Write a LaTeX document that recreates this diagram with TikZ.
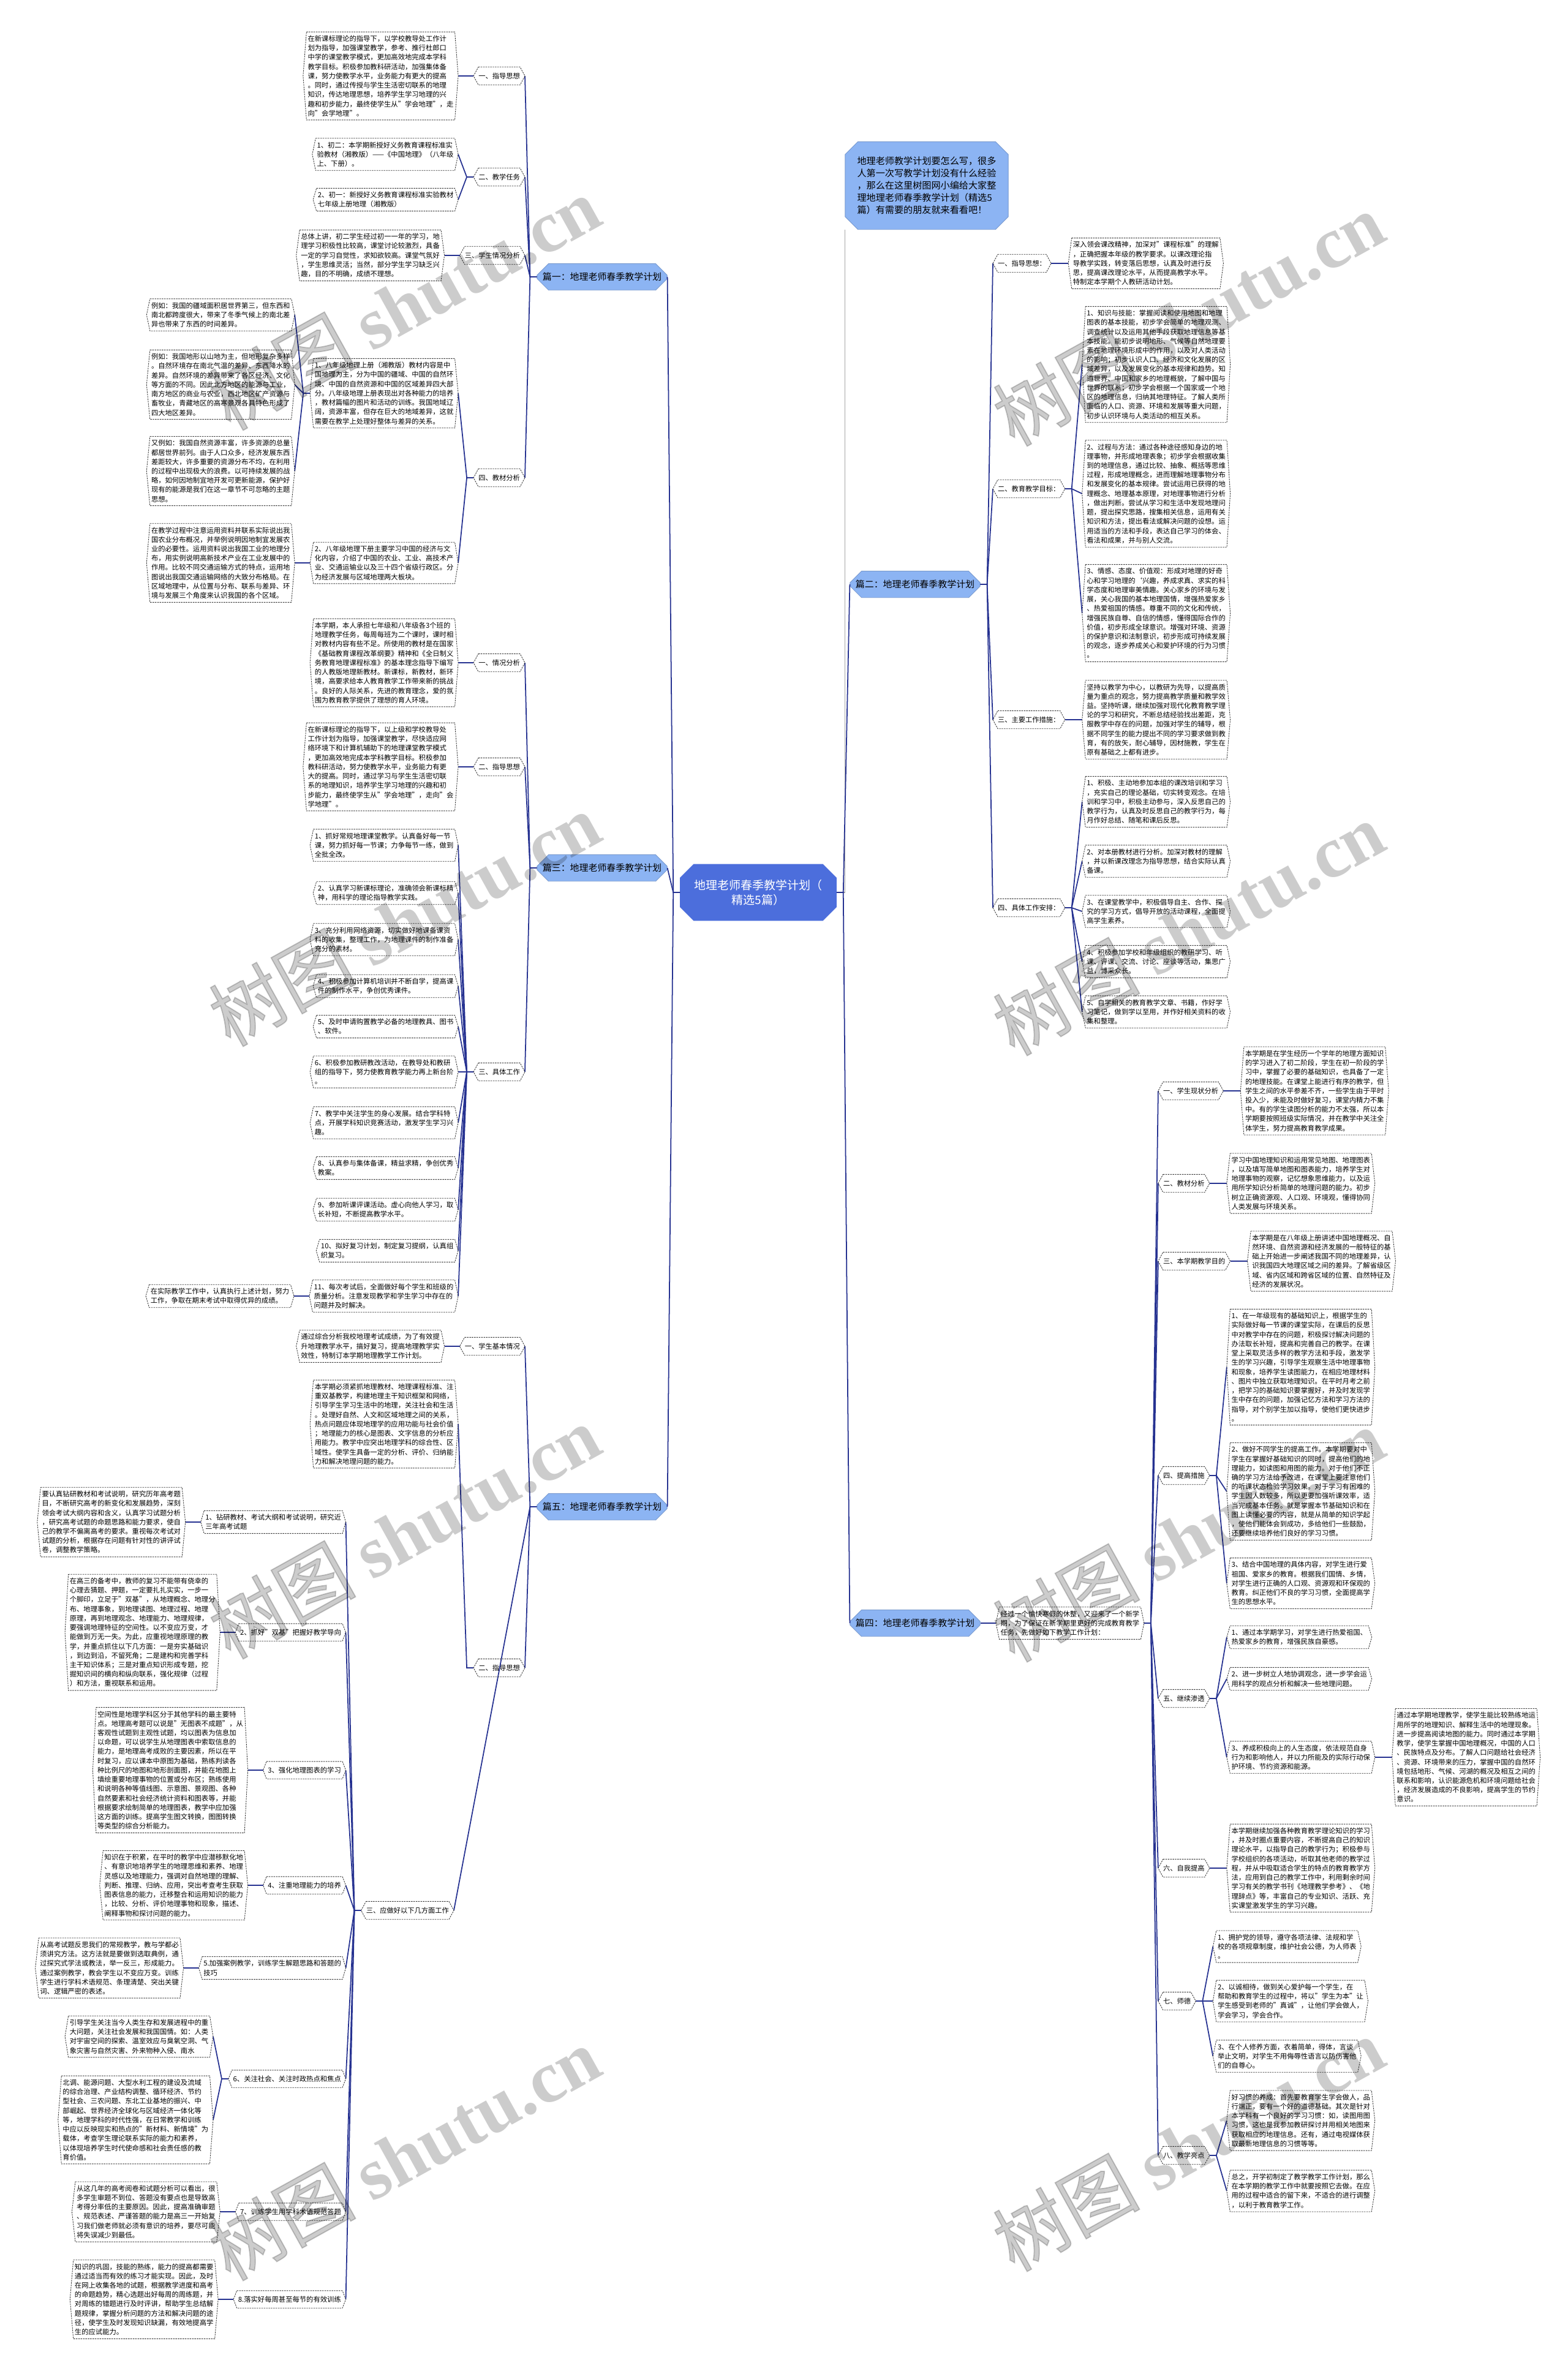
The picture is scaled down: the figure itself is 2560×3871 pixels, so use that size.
\documentclass[tikz,border=0pt]{standalone}
\usepackage{fontspec}
\setmainfont{Noto Sans CJK SC}
\newfontfamily\wmserif{Liberation Serif}
\newfontfamily\wmcjk[FakeBold=1.5]{Noto Sans CJK SC}
\usetikzlibrary{calc,shapes.misc}
\definecolor{conncol}{RGB}{38,50,145}
\definecolor{pianfill}{RGB}{140,180,243}
\definecolor{rootfill}{RGB}{76,110,220}
\definecolor{hexcol}{RGB}{60,60,60}
\newcommand\hexify[2]{\foreach \n in {#2}{\draw[hexline] ([xshift=#1]\n.north west) -- ([xshift=-#1]\n.north east) -- (\n.east) -- ([xshift=-#1]\n.south east) -- ([xshift=#1]\n.south west) -- (\n.west) -- cycle;}}
\begin{document}
\begin{tikzpicture}[x=0.01cm,y=-0.01cm,
  leaf/.style={font=\fontsize{3.22pt}{4.33pt}\selectfont, align=left, inner xsep=0.07cm, inner ysep=0.05cm, minimum height=0.27cm},
  lab/.style={font=\fontsize{3.2pt}{4.3pt}\selectfont, inner xsep=0.075cm, inner ysep=0.02cm, minimum height=0.28cm},
  pian/.style={chamfered rectangle, chamfered rectangle xsep=0.06cm, fill=pianfill, draw=pianfill!85!black, line width=0.25pt, font=\fontsize{4.25pt}{5pt}\selectfont, minimum width=2.08cm, minimum height=0.33cm, inner xsep=0.03cm, inner ysep=0.02cm},
  conn/.style={draw=conncol, line width=0.5pt},
  hexline/.style={draw=hexcol, line width=0.25pt, dash pattern=on 0.7pt off 0.4pt},
  wm/.style={text=black, text opacity=0.2, font=\fontsize{34pt}{34pt}\selectfont, rotate=29, inner sep=0pt}
]
\fill[white] (0,0) rectangle (2560,3871);
\useasboundingbox (0,0) rectangle (2560,3871);

% ---------- root and description ----------
\node[chamfered rectangle, chamfered rectangle xsep=0.09cm, fill=rootfill, draw=rootfill, text=white, align=center, font=\fontsize{5.4pt}{6.9pt}\selectfont, minimum width=2.54cm, minimum height=0.64cm] (root) at (1238,1457) {地理老师春季教学计划（\\精选5篇）};
\node[chamfered rectangle, chamfered rectangle xsep=0.08cm, fill=pianfill, draw=pianfill!85!black, line width=0.25pt, align=left, font=\fontsize{4.3pt}{5.7pt}\selectfont, minimum width=2.5cm, minimum height=1.14cm] (desc) at (1513,303) {地理老师教学计划要怎么写，很多\\人第一次写教学计划没有什么经验\\，那么在这里树图网小编给大家整\\理地理老师春季教学计划（精选5\\篇）有需要的朋友就来看看吧！};

% ---------- level 1 ----------
\node[pian] (P1) at (983,452) {篇一：地理老师春季教学计划};
\node[pian] (P3) at (983,1417) {篇三：地理老师春季教学计划};
\node[pian] (P5) at (983,2460) {篇五：地理老师春季教学计划};
\node[pian] (P2) at (1494,954) {篇二：地理老师春季教学计划};
\node[pian] (P4) at (1494,2650) {篇四：地理老师春季教学计划};

% ---------- 篇一 ----------
\node[lab, anchor=east] (p1a) at (857,124) {一、指导思想};
\node[lab, anchor=east] (p1b) at (857,289) {二、教学任务};
\node[lab, anchor=east] (p1c) at (857,417) {三、学生情况分析};
\node[lab, anchor=east] (p1d) at (857,780) {四、教材分析};
\node[leaf, anchor=east] (A1) at ($(p1a.west)+(-25,0)$) {在新课标理论的指导下，以学校教导处工作计\\划为指导，加强课堂教学，参考、推行杜郎口\\中学的课堂教学模式，更加高效地完成本学科\\教学目标。积极参加教科研活动，加强集体备\\课，努力使教学水平，业务能力有更大的提高\\。同时，通过传授与学生生活密切联系的地理\\知识，传达地理思想，培养学生学习地理的兴\\趣和初步能力，最终使学生从"学会地理"，走\\向"会学地理"。};
\node[leaf, anchor=east] (A2a) at ($(p1b.west)+(-25,252-289)$) {1、初二：本学期新授好义务教育课程标准实\\验教材（湘教版）——《中国地理》（八年级\\上、下册）。};
\node[leaf, anchor=east] (A2b) at ($(p1b.west)+(-25,326-289)$) {2、初一：新授好义务教育课程标准实验教材\\七年级上册地理（湘教版）};
\node[leaf, anchor=east] (A3) at ($(p1c.west)+(-25,0)$) {总体上讲，初二学生经过初一一年的学习，地\\理学习积极性比较高，课堂讨论较激烈，具备\\一定的学习自觉性，求知欲较高。课堂气氛好\\，学生思维灵活；当然，部分学生学习缺乏兴\\趣，目的不明确，成绩不理想。};
\node[leaf, anchor=east] (A4a) at ($(p1d.west)+(-25,642-780)$) {1、八年级地理上册（湘教版）教材内容是中\\国地理为主，分为中国的疆域、中国的自然环\\境、中国的自然资源和中国的区域差异四大部\\分。八年级地理上册表现出对各种能力的培养\\，教材篇幅的图片和活动的训练。我国地域辽\\阔，资源丰富，但存在巨大的地域差异，这就\\需要在教学上处理好整体与差异的关系。};
\node[leaf, anchor=east] (A4b) at ($(p1d.west)+(-25,919-780)$) {2、八年级地理下册主要学习中国的经济与文\\化内容，介绍了中国的农业、工业、高技术产\\业、交通运输业以及三十四个省级行政区。分\\为经济发展与区域地理两大板块。};
\node[leaf, anchor=east] (L1) at ($(A4a.west)+(-25,514-642)$) {例如：我国的疆域面积居世界第三，但东西和\\南北都跨度很大，带来了冬季气候上的南北差\\异也带来了东西的时间差异。};
\node[leaf, anchor=east] (L2) at ($(A4a.west)+(-25,628-642)$) {例如：我国地形以山地为主，但地形复杂多样\\。自然环境存在南北气温的差异、东西降水的\\差异。自然环境的差异带来了各区经济、文化\\等方面的不同。因此北方地区的能源与工业，\\南方地区的商业与农业，西北地区矿产资源与\\畜牧业，青藏地区的高寒景观各具特色形成了\\四大地区差异。};
\node[leaf, anchor=east] (L3) at ($(A4a.west)+(-25,769-642)$) {又例如：我国自然资源丰富，许多资源的总量\\都居世界前列。由于人口众多，经济发展东西\\差距较大，许多重要的资源分布不均，在利用\\的过程中出现极大的浪费。以可持续发展的战\\略，如何因地制宜地开发可更新能源，保护好\\现有的能源是我们在这一章节不可忽略的主题\\思想。};
\node[leaf, anchor=east] (L4) at ($(A4b.west)+(-25,0)$) {在教学过程中注意运用资料并联系实际说出我\\国农业分布概况，并举例说明因地制宜发展农\\业的必要性。运用资料说出我国工业的地理分\\布，用实例说明高新技术产业在工业发展中的\\作用。比较不同交通运输方式的特点，运用地\\图说出我国交通运输网络的大致分布格局。在\\区域地理中，从位置与分布、联系与差异、环\\境与发展三个角度来认识我国的各个区域。};

% ---------- 篇三 ----------
\node[lab, anchor=east] (p3a) at (857,1082) {一、情况分析};
\node[lab, anchor=east] (p3b) at (857,1252) {二、指导思想};
\node[lab, anchor=east] (p3c) at (857,1750) {三、具体工作};
\node[leaf, anchor=east] (B1) at ($(p3a.west)+(-25,0)$) {本学期，本人承担七年级和八年级各3个班的\\地理教学任务，每周每班为二个课时，课时相\\对教材内容有些不足。所使用的教材是在国家\\《基础教育课程改革纲要》精神和《全日制义\\务教育地理课程标准》的基本理念指导下编写\\的人教版地理新教材。新课标，新教材，新环\\境，高要求给本人教育教学工作带来新的挑战\\。良好的人际关系，先进的教育理念，爱的氛\\围为教育教学提供了理想的育人环境。};
\node[leaf, anchor=east] (B2) at ($(p3b.west)+(-25,0)$) {在新课标理论的指导下，以上级和学校教导处\\工作计划为指导，加强课堂教学，尽快适应网\\络环境下和计算机辅助下的地理课堂教学模式\\，更加高效地完成本学科教学目标。积极参加\\教科研活动，努力使教学水平，业务能力有更\\大的提高。同时，通过学习与学生生活密切联\\系的地理知识，培养学生学习地理的兴趣和初\\步能力，最终使学生从"学会地理"，走向"会\\学地理"。};
\node[leaf, anchor=east] (B31) at ($(p3c.west)+(-25,1380-1750)$) {1、抓好常规地理课堂教学。认真备好每一节\\课，努力抓好每一节课；力争每节一练，做到\\全批全改。};
\node[leaf, anchor=east] (B32) at ($(p3c.west)+(-25,1458-1750)$) {2、认真学习新课标理论，准确领会新课标精\\神，用科学的理论指导教学实践。};
\node[leaf, anchor=east] (B33) at ($(p3c.west)+(-25,1534-1750)$) {3、充分利用网络资源，切实做好地课备课资\\料的收集，整理工作，为地理课件的制作准备\\充分的素材。};
\node[leaf, anchor=east] (B34) at ($(p3c.west)+(-25,1610-1750)$) {4、积极参加计算机培训并不断自学，提高课\\件的制作水平，争创优秀课件。};
\node[leaf, anchor=east] (B35) at ($(p3c.west)+(-25,1676-1750)$) {5、及时申请购置教学必备的地理教具、图书\\、软件。};
\node[leaf, anchor=east] (B36) at ($(p3c.west)+(-25,0)$) {6、积极参加教研教改活动，在教导处和教研\\组的指导下，努力使教育教学能力再上新台阶\\。};
\node[leaf, anchor=east] (B37) at ($(p3c.west)+(-25,1833-1750)$) {7、教学中关注学生的身心发展。结合学科特\\点，开展学科知识竞赛活动，激发学生学习兴\\趣。};
\node[leaf, anchor=east] (B38) at ($(p3c.west)+(-25,1907-1750)$) {8、认真参与集体备课，精益求精，争创优秀\\教案。};
\node[leaf, anchor=east] (B39) at ($(p3c.west)+(-25,1975-1750)$) {9、参加听课评课活动。虚心向他人学习，取\\长补短，不断提高教学水平。};
\node[leaf, anchor=east] (B310) at ($(p3c.west)+(-25,2042-1750)$) {10、拟好复习计划，制定复习提纲，认真组\\织复习。};
\node[leaf, anchor=east] (B311) at ($(p3c.west)+(-25,2116-1750)$) {11、每次考试后，全面做好每个学生和班级的\\质量分析。注意发现教学和学生学习中存在的\\问题并及时解决。};
\node[leaf, anchor=east] (B3L) at ($(B311.west)+(-25,0)$) {在实际教学工作中，认真执行上述计划，努力\\工作，争取在期末考试中取得优异的成绩。};

% ---------- 篇五 ----------
\node[lab, anchor=east] (p5a) at (857,2198) {一、学生基本情况};
\node[lab, anchor=east] (p5b) at (857,2723) {二、指导思想};
\node[lab, anchor=east] (p5c) at (741,3119) {三、应做好以下几方面工作};
\node[leaf, anchor=east] (C1) at ($(p5a.west)+(-25,0)$) {通过综合分析我校地理考试成绩，为了有效提\\升地理教学水平，搞好复习，提高地理教学实\\效性，特制订本学期地理教学工作计划。};
\node[leaf, anchor=east] (C2) at ($(p5b.west)+(-25,2325-2723)$) {本学期必须紧抓地理教材、地理课程标准、注\\重双基教学，构建地理主干知识框架和网络，\\引导学生学习生活中的地理，关注社会和生活\\。处理好自然、人文和区域地理之间的关系，\\热点问题应体现地理学的应用功能与社会价值\\；地理能力的核心是图表、文字信息的分析应\\用能力。教学中应突出地理学科的综合性、区\\域性。使学生具备一定的分析、评价、归纳能\\力和解决地理问题的能力。};
\node[leaf, anchor=east] (D1) at ($(p5c.west)+(-25,2485-3119)$) {1、钻研教材、考试大纲和考试说明，研究近\\三年高考试题};
\node[leaf, anchor=east] (D2) at ($(p5c.west)+(-25,2665-3119)$) {2、抓好"双基"把握好教学导向};
\node[leaf, anchor=east] (D3) at ($(p5c.west)+(-25,2890-3119)$) {3、强化地理图表的学习};
\node[leaf, anchor=east] (D4) at ($(p5c.west)+(-25,3078-3119)$) {4、注重地理能力的培养};
\node[leaf, anchor=east] (D5) at ($(p5c.west)+(-25,3213-3119)$) {5.加强案例教学，训练学生解题思路和答题的\\技巧};
\node[leaf, anchor=east] (D6) at ($(p5c.west)+(-25,3394-3119)$) {6、关注社会、关注时政热点和焦点};
\node[leaf, anchor=east] (D7) at ($(p5c.west)+(-25,3611-3119)$) {7、训练学生用学科术语规范答题};
\node[leaf, anchor=east] (D8) at ($(p5c.west)+(-25,3754-3119)$) {8.落实好每周甚至每节的有效训练};
\node[leaf, anchor=east] (E1) at ($(D1.west)+(-25,0)$) {要认真钻研教材和考试说明，研究历年高考题\\目，不断研究高考的新变化和发展趋势，深刻\\领会考试大纲内容和含义，认真学习试题分析\\，研究高考试题的命题思路和能力要求，使自\\己的教学不偏离高考的要求。重视每次考试对\\试题的分析，根据存在问题有针对性的讲评试\\卷，调整教学策略。};
\node[leaf, anchor=east] (E2) at ($(D2.west)+(-25,0)$) {在高三的备考中，教师的复习不能带有侥幸的\\心理去猜题、押题，一定要扎扎实实，一步一\\个脚印，立足于"双基"，从地理概念、地理分\\布、地理事象，到地理读图、地理过程、地理\\原理，再到地理观念、地理能力、地理规律，\\要强调地理特征的空间性。以不变应万变，才\\能做到万无一失。为此，应重视地理原理的教\\学，并重点抓住以下几方面：一是夯实基础识\\，到边到沿，不留死角；二是建构和完善学科\\主干知识体系；三是对重点知识形成专题，挖\\掘知识间的横向和纵向联系，强化规律（过程\\）和方法，重视联系和运用。};
\node[leaf, anchor=east] (E3) at ($(D3.west)+(-25,0)$) {空间性是地理学科区分于其他学科的最主要特\\点。地理高考题可以说是"无图表不成题"，从\\客观性试题到主观性试题，均以图表为信息加\\以命题，可以说学生从地理图表中索取信息的\\能力，是地理高考成败的主要因素，所以在平\\时复习，应以课本中原图为基础，熟练判读各\\种比例尺的地图和地形剖面图，并能在地图上\\填绘重要地理事物的位置或分布区；熟练使用\\和说明各种等值线图、示意图、景观图、各种\\自然要素和社会经济统计资料和图表等，并能\\根据要求绘制简单的地理图表，教学中应加强\\这方面的训练。提高学生图文转换，图图转换\\等类型的综合分析能力。};
\node[leaf, anchor=east] (E4) at ($(D4.west)+(-25,0)$) {知识在于积累，在平时的教学中应潜移默化地\\、有意识地培养学生的地理思维和素养、地理\\灵感以及地理能力，强调对自然地理的理解、\\判断、推理、归纳、应用，突出考查考生获取\\图表信息的能力，迁移整合和运用知识的能力\\，比较、分析、评价地理事物和现象，描述、\\阐释事物和探讨问题的能力。};
\node[leaf, anchor=east] (E5) at ($(D5.west)+(-25,0)$) {从高考试题反思我们的常规教学，教与学都必\\须讲究方法。这方法就是要做到选取典例，通\\过探究式学法或教法，举一反三，形成能力。\\通过案例教学，教会学生以不变应万变。训练\\学生进行学科术语规范、条理清楚、突出关键\\词、逻辑严密的表述。};
\node[leaf, anchor=east] (E6a) at ($(D6.west)+(-25,3325-3394)$) {引导学生关注当今人类生存和发展进程中的重\\大问题，关注社会发展和我国国情。如：人类\\对宇宙空间的探索、温室效应与臭氧空洞、气\\象灾害与自然灾害、外来物种入侵、南水};
\node[leaf, anchor=east] (E6b) at ($(D6.west)+(-25,3461-3394)$) {北调、能源问题、大型水利工程的建设及流域\\的综合治理、产业结构调整、循环经济、节约\\型社会、三农问题、东北工业基地的振兴、中\\部崛起、世界经济全球化与区域经济一体化等\\等，地理学科的时代性强，在日常教学和训练\\中应以反映现实和热点的"新材料、新情境"为\\载体，考查学生理论联系实际的能力和素养，\\以体现培养学生时代使命感和社会责任感的教\\育价值。};
\node[leaf, anchor=east] (E7) at ($(D7.west)+(-25,0)$) {从这几年的高考阅卷和试题分析可以看出，很\\多学生审题不到位、答题没有要点也是导致高\\考得分率低的主要原因。因此，提高准确审题\\、规范表述、严谨答题的能力是高三一开始复\\习我们做老师就必须有意识的培养，要尽可能\\将失误减少到最低。};
\node[leaf, anchor=east] (E8) at ($(D8.west)+(-25,0)$) {知识的巩固，技能的熟练，能力的提高都需要\\通过适当而有效的练习才能实现。因此，及时\\在网上收集各地的试题，根据教学进度和高考\\的命题趋势，精心选题出好每周的周练题，并\\对周练的错题进行及时评讲，帮助学生总结解\\题规律，掌握分析问题的方法和解决问题的途\\径，使学生及时发现知识缺漏，有效地提高学\\生的应试能力。};

% ---------- 篇二 ----------
\node[lab, anchor=west] (q2a) at (1621,430) {一、指导思想：};
\node[lab, anchor=west] (q2b) at (1621,798) {二、教育教学目标：};
\node[lab, anchor=west] (q2c) at (1621,1175) {三、主要工作措施：};
\node[lab, anchor=west] (q2d) at (1621,1482) {四、具体工作安排：};
\node[leaf, anchor=west] (F1) at ($(q2a.east)+(28,0)$) {深入领会课改精神，加深对"课程标准"的理解\\，正确把握本年级的教学要求。以课改理论指\\导教学实践，转变落后思想，认真及时进行反\\思，提高课改理论水平，从而提高教学水平。\\特制定本学期个人教研活动计划。};
\node[leaf, anchor=west] (F2a) at ($(q2b.east)+(28,595-798)$) {1、知识与技能：掌握阅读和使用地图和地理\\图表的基本技能，初步学会简单的地理观测、\\调查统计以及运用其他手段获取地理信息等基\\本技能。能初步说明地形、气候等自然地理要\\素在地理环境形成中的作用，以及对人类活动\\的影响；初步认识人口、经济和文化发展的区\\域差异，以及发展变化的基本规律和趋势。知\\道世界、中国和家乡的地理概貌，了解中国与\\世界的联系；初步学会根据一个国家或一个地\\区的地理信息，归纳其地理特征。了解人类所\\面临的人口、资源、环境和发展等重大问题，\\初步认识环境与人类活动的相互关系。};
\node[leaf, anchor=west] (F2b) at ($(q2b.east)+(28,806-798)$) {2、过程与方法：通过各种途径感知身边的地\\理事物，并形成地理表象；初步学会根据收集\\到的地理信息，通过比较、抽象、概括等思维\\过程，形成地理概念，进而理解地理事物分布\\和发展变化的基本规律。尝试运用已获得的地\\理概念、地理基本原理，对地理事物进行分析\\，做出判断。尝试从学习和生活中发现地理问\\题，提出探究思路，搜集相关信息，运用有关\\知识和方法，提出看法或解决问题的设想。运\\用适当的方法和手段，表达自己学习的体会、\\看法和成果，并与别人交流。};
\node[leaf, anchor=west] (F2c) at ($(q2b.east)+(28,1001-798)$) {3、情感、态度、价值观：形成对地理的好奇\\心和学习地理的`兴趣，养成求真、求实的科\\学态度和地理审美情趣。关心家乡的环境与发\\展，关心我国的基本地理国情，增强热爱家乡\\、热爱祖国的情感。尊重不同的文化和传统，\\增强民族自尊、自信的情感，懂得国际合作的\\价值，初步形成全球意识。增强对环境、资源\\的保护意识和法制意识，初步形成可持续发展\\的观念，逐步养成关心和爱护环境的行为习惯\\。};
\node[leaf, anchor=west] (F3) at ($(q2c.east)+(28,0)$) {坚持以教学为中心，以教研为先导，以提高质\\量为重点的观念，努力提高教学质量和教学效\\益。坚持听课，继续加强对现代化教育教学理\\论的学习和研究，不断总结经验找出差距，克\\服教学中存在的问题，加强对学生的辅导，根\\据不同学生的能力提出不同的学习要求做到教\\育，有的放矢，耐心辅导，因材施教，学生在\\原有基础之上都有进步。};
\node[leaf, anchor=west] (F41) at ($(q2d.east)+(28,1309-1482)$) {1、积极、主动地参加本组的课改培训和学习\\，充实自己的理论基础，切实转变观念。在培\\训和学习中，积极主动参与，深入反思自己的\\教学行为，认真及时反思自己的教学行为，每\\月作好总结、随笔和课后反思。};
\node[leaf, anchor=west] (F42) at ($(q2d.east)+(28,1406-1482)$) {2、对本册教材进行分析。加深对教材的理解\\，并以新课改理念为指导思想，结合实际认真\\备课。};
\node[leaf, anchor=west] (F43) at ($(q2d.east)+(28,1488-1482)$) {3、在课堂教学中，积极倡导自主、合作、探\\究的学习方式，倡导开放的活动课程，全面提\\高学生素养。};
\node[leaf, anchor=west] (F44) at ($(q2d.east)+(28,1570-1482)$) {4、积极参加学校和年级组织的教研学习、听\\课、评课、交流、讨论、座谈等活动，集思广\\益，博采众长。};
\node[leaf, anchor=west] (F45) at ($(q2d.east)+(28,1652-1482)$) {5、自学相关的教育教学文章、书籍，作好学\\习笔记，做到学以至用，并作好相关资料的收\\集和整理。};

% ---------- 篇四 ----------
\node[leaf, anchor=west] (intro) at (1626,2650) {经过一个愉快寒假的休整，又迎来了一个新学\\期，为了保证在新学期里更好的完成教育教学\\任务，先做好如下教学工作计划：};
\node[lab, anchor=west] (r1) at ($(intro.east)+(23,1781-2650)$) {一、学生现状分析};
\node[lab, anchor=west] (r2) at ($(intro.east)+(23,1932-2650)$) {二、教材分析};
\node[lab, anchor=west] (r3) at ($(intro.east)+(23,2059-2650)$) {三、本学期教学目的};
\node[lab, anchor=west] (r4) at ($(intro.east)+(23,2409-2650)$) {四、提高措施};
\node[lab, anchor=west] (r5) at ($(intro.east)+(23,2773-2650)$) {五、继续渗透};
\node[lab, anchor=west] (r6) at ($(intro.east)+(23,3050-2650)$) {六、自我提高};
\node[lab, anchor=west] (r7) at ($(intro.east)+(23,3267-2650)$) {七、师德};
\node[lab, anchor=west] (r8) at ($(intro.east)+(23,3519-2650)$) {八、教学亮点};
\node[leaf, anchor=west] (G1) at ($(r1.east)+(28,0)$) {本学期是在学生经历一个学年的地理方面知识\\的学习进入了初二阶段，学生在初一阶段的学\\习中，掌握了必要的基础知识，也具备了一定\\的地理技能。在课堂上能进行有序的教学，但\\学生之间的水平参差不齐，一些学生由于平时\\投入少，未能及时做好复习，课堂内精力不集\\中。有的学生读图分析的能力不太强，所以本\\学期要按照班级实际情况，并在教学中关注全\\体学生，努力提高教育教学成果。};
\node[leaf, anchor=west] (G2) at ($(r2.east)+(28,0)$) {学习中国地理知识和运用常见地图、地理图表\\，以及填写简单地图和图表能力，培养学生对\\地理事物的观察，记忆想象思维能力，以及运\\用所学知识分析简单的地理问题的能力。初步\\树立正确资源观、人口观、环境观，懂得协同\\人类发展与环境关系。};
\node[leaf, anchor=west] (G3) at ($(r3.east)+(28,0)$) {本学期是在八年级上册讲述中国地理概况、自\\然环境、自然资源和经济发展的一般特征的基\\础上开始进一步阐述我国不同的地理差异，认\\识我国四大地理区域之间的差异。了解省级区\\域、省内区域和跨省区域的位置、自然特征及\\经济的发展状况。};
\node[leaf, anchor=west] (G4a) at ($(r4.east)+(28,2232-2409)$) {1、在一年级现有的基础知识上，根据学生的\\实际做好每一节课的课堂实际，在课后的反思\\中对教学中存在的问题，积极探讨解决问题的\\办法取长补短，提高和完善自己的教学。在课\\堂上采取灵活多样的教学方法和手段，激发学\\生的学习兴趣，引导学生观察生活中地理事物\\和现象，培养学生读图能力，在相应地理材料\\、图片中独立获取地理知识。在平时月考之前\\，把学习的基础知识要掌握好，并及时发现学\\生中存在的问题，加强记忆方法和学习方法的\\指导，对个别学生加以指导，使他们更快进步\\。};
\node[leaf, anchor=west] (G4b) at ($(r4.east)+(28,2435-2409)$) {2、做好不同学生的提高工作。本学期要对中\\学生在掌握好基础知识的同时，提高他们的地\\理能力，如读图和用图的能力。对于他们不正\\确的学习方法给予改进，在课堂上要注意他们\\的听课状态检验学习效果。对于学习有困难的\\学生因人数较多，所以更要加强听课效率，适\\当完成基本任务。就是掌握本节基础知识和在\\图上读懂必要的内容，就是从简单的知识学起\\，使他们能体会到成功，多给他们一些鼓励，\\还要继续培养他们良好的学习习惯。};
\node[leaf, anchor=west] (G4c) at ($(r4.east)+(28,2585-2409)$) {3、结合中国地理的具体内容，对学生进行爱\\祖国、爱家乡的教育。根据我们国情、乡情，\\对学生进行正确的人口观、资源观和环保观的\\教育。纠正他们不良的学习习惯，全面提高学\\生的思想水平。};
\node[leaf, anchor=west] (G5a) at ($(r5.east)+(28,2673-2773)$) {1、通过本学期学习，对学生进行热爱祖国、\\热爱家乡的教育，增强民族自豪感。};
\node[leaf, anchor=west] (G5b) at ($(r5.east)+(28,2741-2773)$) {2、进一步树立人地协调观念，进一步学会运\\用科学的观点分析和解决一些地理问题。};
\node[leaf, anchor=west] (G5c) at ($(r5.east)+(28,2869-2773)$) {3、养成积极向上的人生态度，依法规范自身\\行为和影响他人，并以力所能及的实际行动保\\护环境、节约资源和能源。};
\node[leaf, anchor=west] (H) at ($(G5c.east)+(28,0)$) {通过本学期地理教学，使学生能比较熟练地运\\用所学的地理知识、解释生活中的地理现象。\\进一步提高阅读地图的能力。同时通过本学期\\教学，使学生掌握中国地理概况，中国的人口\\、民族特点及分布。了解人口问题给社会经济\\、资源、环境带来的压力，掌握中国的自然环\\境包括地形、气候、河湖的概况及相互之间的\\联系和影响，认识能源危机和环境问题给社会\\，经济发展造成的不良影响，提高学生的节约\\意识。};
\node[leaf, anchor=west] (G6) at ($(r6.east)+(28,0)$) {本学期继续加强各种教育教学理论知识的学习\\，并及时圈点重要内容，不断提高自己的知识\\理论水平，以指导自己的教学行为；积极参与\\学校组织的各项活动，听取其他老师的教学过\\程，并从中吸取适合学生的特点的教育教学方\\法，应用到自己的教学工作中，利用剩余时间\\学习有关的教学书刊《地理教学参考》、《地\\理辞点》等，丰富自己的专业知识、活跃、充\\实课堂激发学生的学习兴趣。};
\node[leaf, anchor=west] (G7a) at ($(r7.east)+(28,3178-3267)$) {1、拥护党的领导，遵守各项法律、法规和学\\校的各项规章制度，维护社会公德，为人师表\\。};
\node[leaf, anchor=west] (G7b) at ($(r7.east)+(28,0)$) {2、以诚相待，做到关心爱护每一个学生，在\\帮助和教育学生的过程中，将以"学生为本"让\\学生感受到老师的"真诚"，让他们学会做人，\\学会学习，学会合作。};
\node[leaf, anchor=west] (G7c) at ($(r7.east)+(28,3357-3267)$) {3、在个人修养方面，衣着简单，得体，言谈\\举止文明，对学生不用侮辱性语言以防伤害他\\们的自尊心。};
\node[leaf, anchor=west] (G8a) at ($(r8.east)+(28,3462-3519)$) {好习惯的养成：首先要教育学生学会做人，品\\行端正，要有一个好的道德基础。其次是针对\\本学科有一个良好的学习习惯：如，读图用图\\习惯，这也是我参加教研探讨并用相关地图来\\获取相应的地理信息。还有，通过电视媒体获\\取最新地理信息的习惯等等。};
\node[leaf, anchor=west] (G8b) at ($(r8.east)+(28,3577-3519)$) {总之，开学初制定了教学教学工作计划，那么\\在本学期的教学工作中就要按照它去做。在应\\用的过程中适合的留下来，不适合的进行调整\\，以利于教育教学工作。};

% ---------- connectors ----------
\draw[gray!70, line width=0.3pt] (desc.west |- desc.south) |- (root.east);
\foreach \a/\b in {root/P1,root/P3,root/P5,
  P1/p1a,P1/p1b,P1/p1c,P1/p1d,p1a/A1,p1b/A2a,p1b/A2b,p1c/A3,p1d/A4a,p1d/A4b,A4a/L1,A4a/L2,A4a/L3,A4b/L4,
  P3/p3a,P3/p3b,P3/p3c,p3a/B1,p3b/B2,p3c/B31,p3c/B32,p3c/B33,p3c/B34,p3c/B35,p3c/B36,p3c/B37,p3c/B38,p3c/B39,p3c/B310,p3c/B311,B311/B3L,
  P5/p5a,P5/p5b,P5/p5c,p5a/C1,p5b/C2,p5c/D1,p5c/D2,p5c/D3,p5c/D4,p5c/D5,p5c/D6,p5c/D7,p5c/D8,
  D1/E1,D2/E2,D3/E3,D4/E4,D5/E5,D6/E6a,D6/E6b,D7/E7,D8/E8}
  {\draw[conn] (\a.west) -- ++(-11,0) -- (\b.east);}
\foreach \a/\b in {root/P2,root/P4,
  P2/q2a,P2/q2b,P2/q2c,P2/q2d,q2a/F1,q2b/F2a,q2b/F2b,q2b/F2c,q2c/F3,q2d/F41,q2d/F42,q2d/F43,q2d/F44,q2d/F45,
  P4/intro,intro/r1,intro/r2,intro/r3,intro/r4,intro/r5,intro/r6,intro/r7,intro/r8,
  r1/G1,r2/G2,r3/G3,r4/G4a,r4/G4b,r4/G4c,r5/G5a,r5/G5b,r5/G5c,G5c/H,r6/G6,r7/G7a,r7/G7b,r7/G7c,r8/G8a,r8/G8b}
  {\draw[conn] (\a.east) -- ++(11,0) -- (\b.west);}

% ---------- hexagon borders ----------
\hexify{0.08cm}{p1a,p1b,p1c,p1d,p3a,p3b,p3c,p5a,p5b,p5c,q2a,q2b,q2c,q2d,r1,r2,r3,r4,r5,r6,r7,r8}
\hexify{0.055cm}{A1,A2a,A2b,A3,A4a,A4b,L1,L2,L3,L4,B1,B2,B31,B32,B33,B34,B35,B36,B37,B38,B39,B310,B311,B3L,C1,C2,D1,D2,D3,D4,D5,D6,D7,D8,E1,E2,E3,E4,E5,E6a,E6b,E7,E8,F1,F2a,F2b,F2c,F3,F41,F42,F43,F44,F45,intro,G1,G2,G3,G4a,G4b,G4c,G5a,G5b,G5c,H,G6,G7a,G7b,G7c,G8a,G8b}

% ---------- watermarks ----------
\foreach \wx/\wy in {660/494,1940/520,660/1500,1940/1515,660/2500,1940/2505,660/3515,1940/3500}
  {\node[wm] at (\wx,\wy) {{\wmcjk 树图} {\wmserif\bfseries shutu.cn}};}
\end{tikzpicture}
\end{document}
